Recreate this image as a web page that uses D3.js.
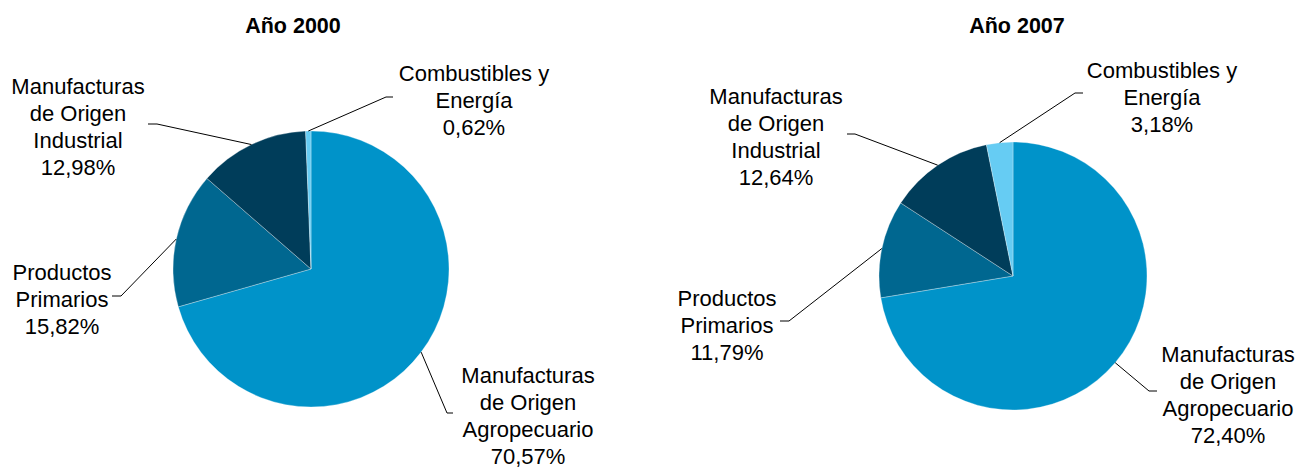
<!DOCTYPE html>
<html><head><meta charset="utf-8">
<script src="https://cdn.jsdelivr.net/npm/d3@7"></script>
<style>body{margin:0;background:#fff}svg{display:block}text{font-family:"Liberation Sans",Arial,sans-serif;fill:#000}</style>
</head><body><svg id="c" width="1296" height="468"></svg>
<script>
// Data
const categories = ["Manufacturas de Origen Agropecuario","Productos Primarios","Manufacturas de Origen Industrial","Combustibles y Energía"];
const labelLines = [["Manufacturas","de Origen","Agropecuario"],["Productos","Primarios"],["Manufacturas","de Origen","Industrial"],["Combustibles y","Energía"]];
const titles = ["Año 2000","Año 2007"];
const values2000 = [70.57, 15.82, 12.98, 0.62];
const values2007 = [72.40, 11.79, 12.64, 3.18];
const colors = ["#0093C9","#006790","#003D5A","#66CCF3"];

// Layout (positions only)
const layouts = [
  {cx:311, cy:269, r:138, tx:293, labels:[
    {x:528, y:375, ex:447, ey:413, tx:453},
    {x:62, y:272, ex:121, ey:296, tx:112},
    {x:78, y:86, ex:157, ey:124, tx:148},
    {x:474, y:73, ex:386, ey:97, tx:393}]},
  {cx:1013, cy:276, r:134, tx:1017, labels:[
    {x:1228, y:354, ex:1149, ey:391, tx:1157},
    {x:727, y:298, ex:789, ey:321, tx:780},
    {x:776, y:96, ex:855, ey:134, tx:847},
    {x:1162, y:70, ex:1075, ey:93, tx:1083}]}
];
const series = [values2000, values2007];
const fmt = v => v.toFixed(2).replace(".", ",") + "%";
const svg = d3.select("#c");
const lh = 27, fs = 22;

series.forEach((vals, i) => {
  const L = layouts[i];
  const pie = d3.pie().sort(null).value(d => d)(vals);
  const arc = d3.arc().innerRadius(0).outerRadius(L.r);
  const g = svg.append("g").attr("transform", `translate(${L.cx},${L.cy})`);
  g.selectAll("path").data(pie).join("path")
    .attr("d", arc).attr("fill", (d, j) => colors[j])
    .attr("stroke", "rgba(255,255,255,0.5)").attr("stroke-width", 0.6);
  svg.append("text").attr("x", L.tx).attr("y", 25).attr("dy", "0.35em")
    .attr("text-anchor", "middle").attr("font-weight", "bold").attr("font-size", 21.5)
    .text(titles[i]);
  pie.forEach((d, j) => {
    const a = (d.startAngle + d.endAngle) / 2;
    const px = L.cx + L.r * Math.sin(a), py = L.cy - L.r * Math.cos(a);
    const lb = L.labels[j];
    svg.append("polyline")
      .attr("points", `${px},${py} ${lb.ex},${lb.ey} ${lb.tx},${lb.ey}`)
      .attr("fill", "none").attr("stroke", "#000").attr("stroke-width", 1);
    const lines = labelLines[j].concat([fmt(vals[j])]);
    const t = svg.append("text").attr("text-anchor", "middle").attr("font-size", fs);
    lines.forEach((s, k) => {
      t.append("tspan").attr("x", lb.x).attr("y", lb.y + k * lh).attr("dy", "0.35em").text(s);
    });
  });
});
</script></body></html>
